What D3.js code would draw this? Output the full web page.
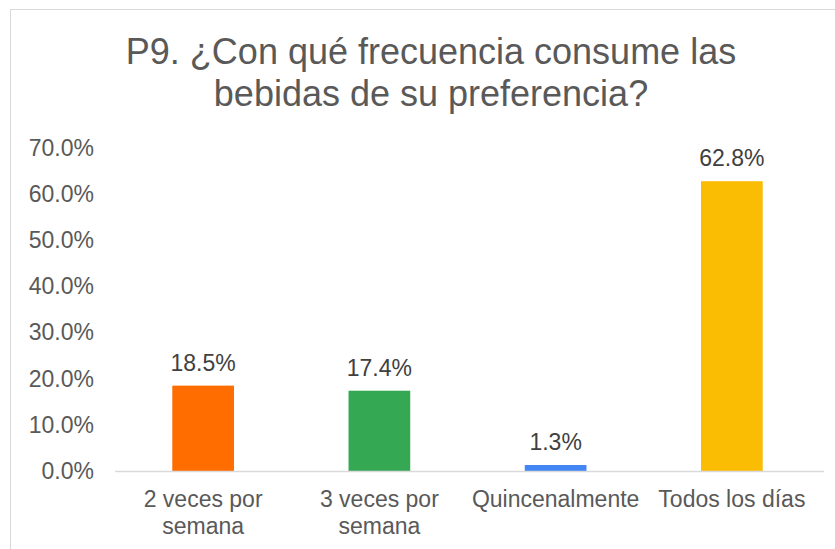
<!DOCTYPE html>
<html>
<head>
<meta charset="utf-8">
<script src="https://cdn.jsdelivr.net/npm/d3@7"></script>
<style>
  body { margin: 0; background: #fff; }
  text { font-family: "Liberation Sans", Arial, sans-serif; }
</style>
</head>
<body>
<svg id="chart"></svg>
<script>
// Chart data
const categories = ['2 veces por semana', '3 veces por semana', 'Quincenalmente', 'Todos los días'];
const labelLines = [['2 veces por', 'semana'], ['3 veces por', 'semana'], ['Quincenalmente'], ['Todos los días']];
const values = [18.5, 17.4, 1.3, 62.8];
const colors = ['#ff6d01', '#34a853', '#4285f4', '#fbbc04'];
const yTicks = [0, 10, 20, 30, 40, 50, 60, 70];
const titleLines = ['P9. ¿Con qué frecuencia consume las', 'bebidas de su preferencia?'];

const W = 835, H = 549;
const textColor = '#595959';
const svg = d3.select('#chart').attr('width', W).attr('height', H);

// Outer frame
svg.append('rect')
  .attr('x', 10.5).attr('y', 9.5)
  .attr('width', W).attr('height', H)
  .attr('fill', '#fff').attr('stroke', '#d9d9d9');

// Title
svg.append('text')
  .attr('x', 431).attr('y', 64)
  .attr('text-anchor', 'middle')
  .attr('fill', textColor)
  .style('font-size', '36px')
  .selectAll('tspan')
  .data(titleLines)
  .enter()
  .append('tspan')
    .attr('x', 431)
    .attr('dy', (d, i) => i === 0 ? 0 : 42)
    .text(d => d);

// Scales
const plot = { left: 115, right: 820, top: 148, bottom: 471 };
const xScale = d3.scaleBand()
  .domain(categories)
  .range([plot.left, plot.right])
  .paddingInner(0.65)
  .paddingOuter(0.325);
const yScale = d3.scaleLinear()
  .domain([0, 70])
  .range([plot.bottom, plot.top]);

// Y axis (labels only)
const yAxis = svg.append('g')
  .attr('transform', `translate(${plot.left}, 0)`)
  .call(d3.axisLeft(yScale).tickValues(yTicks).tickSize(0).tickPadding(21)
    .tickFormat(d => d.toFixed(1) + '%'));
yAxis.select('.domain').remove();
yAxis.selectAll('text')
  .attr('fill', textColor)
  .style('font-size', '23px');

// Bars
svg.selectAll('.bar')
  .data(values)
  .enter()
  .append('rect')
    .attr('class', 'bar')
    .attr('x', (d, i) => xScale(categories[i]))
    .attr('y', d => yScale(d))
    .attr('width', xScale.bandwidth())
    .attr('height', d => yScale(0) - yScale(d))
    .attr('fill', (d, i) => colors[i]);

// Baseline
svg.append('line')
  .attr('x1', plot.left).attr('x2', plot.right + 4)
  .attr('y1', yScale(0) + 0.5).attr('y2', yScale(0) + 0.5)
  .attr('stroke', '#d9d9d9').attr('stroke-width', 1.5);

// Data labels
svg.selectAll('.value')
  .data(values)
  .enter()
  .append('text')
    .attr('class', 'value')
    .attr('x', (d, i) => xScale(categories[i]) + xScale.bandwidth() / 2)
    .attr('y', d => yScale(d) - 15)
    .attr('text-anchor', 'middle')
    .attr('fill', '#404040')
    .style('font-size', '23px')
    .text(d => d.toFixed(1) + '%');

// Category labels
const catLabels = svg.selectAll('.cat')
  .data(labelLines)
  .enter()
  .append('text')
    .attr('class', 'cat')
    .attr('text-anchor', 'middle')
    .attr('fill', textColor)
    .style('font-size', '23px')
    .attr('y', yScale(0) + 36);
catLabels.selectAll('tspan')
  .data((d, i) => d.map(line => ({ line, i })))
  .enter()
  .append('tspan')
    .attr('x', d => xScale(categories[d.i]) + xScale.bandwidth() / 2)
    .attr('dy', (d, j) => j === 0 ? 0 : 27)
    .text(d => d.line);
</script>
</body>
</html>
